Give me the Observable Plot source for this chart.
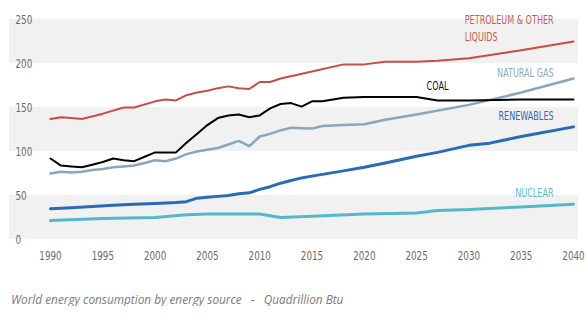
<!DOCTYPE html>
<html>
<head>
<meta charset="utf-8">
<script src="https://cdn.jsdelivr.net/npm/d3@7"></script>
<script src="https://cdn.jsdelivr.net/npm/@observablehq/plot@0.6"></script>
<style>
  html, body { margin: 0; padding: 0; background: #fff; }
  #chart svg { display: block; }
  .caption {
    font-family: "Open Sans", sans-serif; font-style: italic; font-size: 11.8px;
    color: #7a7a7a; margin: 22px 0 0 11px; line-height: 14px; white-space: pre;
  }
</style>
</head>
<body>
<div id="chart"></div>
<div class="caption">World energy consumption by energy source   -   Quadrillion Btu</div>
<script>
const petroleumYears = [1990,1991,1992,1993,1995,1997,1998,2000,2001,2002,2003,2004,2005,2006,2007,2008,2009,2010,2011,2012,2015,2018,2020,2022,2025,2027,2030,2035,2040];
const petroleum      = [137,139,138,137,143,150,150,157,159,158,164,167,169,172,174,172,171,179,179,183,191,199,199,202,202,203,206,215,225];

const coalYears = [1990,1991,1992,1993,1994,1995,1996,1997,1998,1999,2000,2001,2002,2003,2004,2005,2006,2007,2008,2009,2010,2011,2012,2013,2014,2015,2016,2017,2018,2020,2025,2026,2027,2030,2035,2040];
const coal      = [92,84,83,82,85,88,92,90,89,94,99,99,99,110,120,130,138,141,142,139,141,149,154,155,151,157,157,159,161,162,162,160,158,158,159,159];

const gasYears = [1990,1991,1992,1993,1994,1995,1996,1997,1998,1999,2000,2001,2002,2003,2004,2005,2006,2007,2008,2009,2010,2011,2012,2013,2014,2015,2016,2018,2020,2022,2025,2030,2035,2040];
const gas      = [75,77,76,77,79,80,82,83,84,87,90,89,92,97,100,102,104,108,112,106,117,120,124,127,126.5,126,129,130,131,136,142,153,167,183];

const renewYears = [1990,1992,1994,1996,1998,2000,2002,2003,2004,2005,2006,2007,2008,2009,2010,2011,2012,2013,2014,2015,2016,2018,2020,2022,2025,2027,2030,2032,2035,2040];
const renewables = [35,36,37.5,39,40,41,42,43,47,48,49,50,52,53,57,60,64,67,70,72,74,78,82,87,94.5,99,107,109.5,117,128];

const nuclearYears = [1990,1995,2000,2003,2005,2010,2012,2015,2020,2025,2027,2030,2035,2040];
const nuclear      = [21.5,24,25,28,29,29,25,26.5,29,30,33,34,37,40];

const yTicks = [0,50,100,150,200,250];
const xTicks = [1990,1995,2000,2005,2010,2015,2020,2025,2030,2035,2040];
const bandStarts = [0,100,200];

const seriesNames = ["Nuclear","Renewables","Natural gas","Coal","Petroleum & other liquids"];
const seriesColors = ["#52b9cb","#2a6bb8","#8ba5bb","#000000","#cc4b45"];
const seriesWidths = [3,3,2.5,2,2];

const labelTexts = ["PETROLEUM & OTHER\nLIQUIDS","NATURAL GAS","COAL","RENEWABLES","NUCLEAR"];
const labelColors = ["#d05a52","#90a9bd","#111111","#2e6db5","#5fbdcc"];
const labelAnchorYear = [2029.6,2038.1,2025.95,2038.1,2038.1];
const labelAnchorValue = [248.8,188.6,173.8,139.7,52.6];
const labelAlign = ["start","end","start","end","end"];

const rows = [];
const add = (name, ys, vs) => ys.forEach((y,i) => rows.push({series: name, year: y, value: vs[i]}));
add("Nuclear", nuclearYears, nuclear);
add("Renewables", renewYears, renewables);
add("Natural gas", gasYears, gas);
add("Coal", coalYears, coal);
add("Petroleum & other liquids", petroleumYears, petroleum);

const labels = labelTexts.map((t,i) => ({text: t, year: labelAnchorYear[i], value: labelAnchorValue[i], color: labelColors[i], align: labelAlign[i]}));

const font = "'DejaVu Sans Condensed', 'DejaVu Sans', sans-serif";

const marks = [
  Plot.rectY(bandStarts, {y1: d => d, y2: d => d + 50, fill: "#f1f1f1"}),
  ...seriesNames.map((s,i) => Plot.line(rows.filter(r => r.series === s), {
    x: "year", y: "value", stroke: seriesColors[i], strokeWidth: seriesWidths[i],
    strokeLinejoin: "round", strokeLinecap: "round"
  })),
  ...["start","end"].map(a => Plot.text(labels.filter(l => l.align === a), {
    x: "year", y: "value", text: "text", fill: "color", textAnchor: a,
    fontSize: 12, lineHeight: 1.38, fontFamily: font, lineAnchor: "top", dy: -8,
    className: "condensed"
  })),
  Plot.axisY(yTicks, {anchor: "left", tickSize: 0, tickPadding: 0, textAnchor: "start", dx: 6,
    fontSize: 13, fontFamily: font, fill: "#6a6a6a", label: null, className: "condensed"}),
  Plot.axisX(xTicks, {anchor: "bottom", tickSize: 0, tickPadding: 11, tickFormat: d => String(d),
    fontSize: 13, fontFamily: font, fill: "#6a6a6a", label: null, className: "condensed"})
];

const chart = Plot.plot({
  width: 588,
  height: 270,
  marginLeft: 9,
  marginRight: 10,
  marginTop: 19,
  marginBottom: 31,
  x: {domain: [1990, 2040], range: [50, 573]},
  y: {domain: [0, 250]},
  style: {background: "#fff", overflow: "visible"},
  marks
});

// narrow the condensed lettering horizontally, around each text's own anchor
d3.select(chart).selectAll(".condensed text").each(function() {
  const el = d3.select(this);
  const t = el.attr("transform");
  if (t) {
    el.attr("transform", t + " scale(0.75,1)");
  } else {
    const x = +el.attr("x") || 0, y = +el.attr("y") || 0;
    el.attr("transform", `translate(${x},${y}) scale(0.75,1) translate(${-x},${-y})`);
  }
});

document.getElementById("chart").appendChild(chart);
</script>
</body>
</html>
